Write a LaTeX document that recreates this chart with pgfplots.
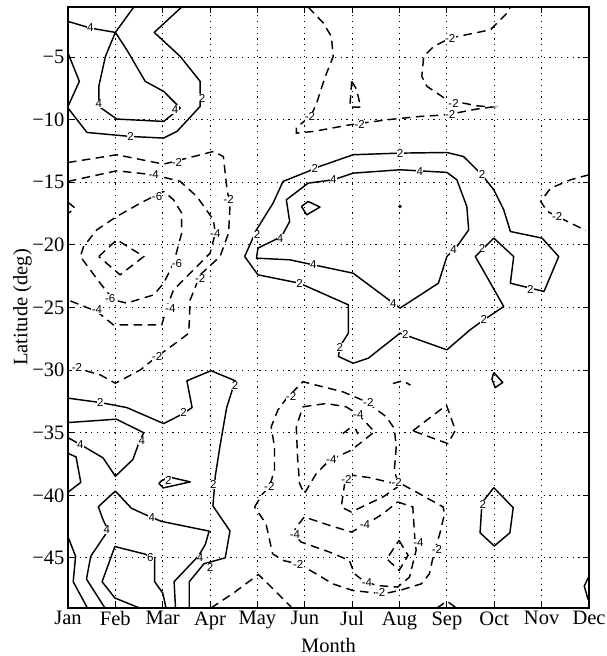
\documentclass[border=0pt]{standalone}
\usepackage{fontspec}
\setmainfont{Liberation Serif}
\newfontfamily\lsans{Liberation Sans}
\usepackage{pgfplots}
\pgfplotsset{compat=1.18}
\newcommand\clfont{\lsans\fontsize{11.5}{12}\selectfont}
\newcommand\cl[3]{\node[font=\clfont,fill=white,inner sep=0.3pt] at (axis cs:#1,#2) {#3};}
\pgfplotsset{
  pos/.style={black, line width=1.45pt, line join=round},
  neg/.style={black, line width=1.45pt, dash pattern=on 8.5pt off 5.5pt},
}
\begin{document}
\begin{tikzpicture}
\begin{axis}[
  name=ax,
  scale only axis,
  width=521pt, height=601pt,
  xmin=1, xmax=12, ymin=-49, ymax=-1,
  xtick={1,2,3,4,5,6,7,8,9,10,11,12},
  xticklabels={Jan,Feb,Mar,Apr,May,Jun,Jul,Aug,Sep,Oct,Nov,Dec},
  ytick={-45,-40,-35,-30,-25,-20,-15,-10,-5},
  yticklabels={−45,−40,−35,−30,−25,−20,−15,−10,−5},
  tick label style={font=\fontsize{20.5}{24}\selectfont},
  label style={font=\fontsize{20.5}{24}\selectfont},
  xlabel={Month}, ylabel={Latitude (deg)},
  xlabel style={at={(axis description cs:0.5,-0.062)}, anchor=center},
  ylabel style={at={(axis description cs:-0.0873,0.5)}, anchor=center},
  tick align=inside, major tick length=6pt,
  tick style={black, line width=0.9pt},
  axis line style={black, line width=1.4pt},
  grid=major,
  major grid style={black, line width=1pt, dash pattern=on 1.2pt off 4.6pt},
]
% ---------- positive (solid) ----------
\addplot[pos] coordinates {(1,-2.15) (1.47,-2.68) (2.0,-3.03) (2.39,-1)};
\addplot[pos] coordinates {(2.0,-3.03) (2.24,-4.41) (2.63,-6.94) (3.02,-7.74) (3.37,-9.07) (3.02,-10.14) (2.03,-9.95) (1.65,-8.94) (1.65,-7.34) (1.79,-4.95) (2.0,-3.03)};
\addplot[pos] coordinates {(1,-4.68) (1.24,-6.94) (1,-8.94)};
\addplot[pos] coordinates {(1,-9.07) (1.40,-11.02) (2.32,-11.34) (3.02,-11.47) (3.30,-10.94) (3.79,-8.94) (3.79,-6.94) (3.37,-4.95) (2.82,-3.03) (3.40,-1)};
\addplot[pos] coordinates {(4.73,-20.93) (4.98,-18.79) (5.33,-16.66) (5.54,-14.93) (6.07,-14.13) (6.21,-13.87) (7.02,-12.80) (8.01,-12.67) (9.00,-12.62) (9.35,-12.94) (9.74,-14.40) (9.99,-15.60) (10.20,-17.20) (10.34,-18.93) (11.01,-19.46) (11.36,-20.93) (11.05,-23.72) (10.34,-23.06) (10.41,-20.93) (9.99,-19.46) (9.60,-20.93) (10.20,-24.92) (9.78,-25.99) (9.49,-26.78) (9.00,-28.38) (8.01,-27.05) (7.34,-29.05) (7.02,-29.45) (6.71,-28.91) (6.74,-28.12) (6.92,-27.05) (6.92,-24.79) (5.89,-23.06) (5.01,-22.39) (4.73,-20.93)};
\addplot[pos] coordinates {(6.07,-15.07) (6.60,-14.80) (7.02,-14.27) (8.01,-14.00) (9.00,-14.21) (9.21,-14.80) (9.42,-16.93) (9.46,-18.80) (9.21,-20.13) (9.00,-20.93) (8.82,-23.06) (8.01,-25.05) (7.02,-22.26) (6.18,-21.59) (5.68,-21.19) (4.98,-21.06) (5.01,-20.26) (5.51,-19.33) (5.68,-18.13) (5.61,-16.40) (6.07,-15.07)};
\addplot[pos] coordinates {(5.93,-16.93) (6.07,-16.53) (6.32,-16.98) (6.04,-17.60) (5.93,-16.93)};
\addplot[only marks, mark=*, mark size=1.5pt, black] coordinates {(8.01,-16.93)};
\addplot[pos] coordinates {(1,-32.24) (1.68,-32.59) (2.24,-32.99) (3.02,-34.27) (3.41,-33.52) (3.62,-32.99) (3.51,-30.85) (4.02,-30.05) (4.53,-30.85) (4.35,-32.99) (4.21,-36.05) (4.11,-38.45) (4.06,-40.85) (4.42,-42.85) (4.32,-44.99) (3.87,-45.47) (3.56,-46.9) (3.56,-49)};
\addplot[pos] coordinates {(1,-34.19) (2.02,-33.92) (2.60,-35.0) (2.51,-35.67) (2.37,-37.14) (2.0,-38.48) (1.74,-37.01) (1.26,-35.94) (1,-35.40)};
\addplot[pos] coordinates {(1,-36.65) (1.17,-36.93) (1.27,-38.97) (1,-39.75)};
\addplot[pos] coordinates {(2.96,-38.88) (3.13,-38.53) (3.58,-38.93) (3.01,-39.41) (2.92,-39.06) (2.96,-38.88)};
\addplot[pos] coordinates {(1.78,-49) (1.39,-46.69) (1.48,-44.87) (1.85,-42.79) (1.74,-41.95) (1.64,-40.91) (2.00,-39.66) (2.34,-41.04) (2.72,-41.69) (2.97,-42.08) (3.98,-42.86) (3.90,-43.91) (3.76,-44.82) (3.24,-46.90) (3.27,-49)};
\addplot[pos] coordinates {(1,-43.31) (1.16,-44.87) (1.11,-46.90) (1.41,-49)};
\addplot[pos] coordinates {(2.51,-49) (1.99,-48.2) (1.72,-46.9) (1.99,-44.09) (2.62,-44.69) (2.83,-45.0) (2.83,-46.90) (3.00,-47.81) (3.07,-49)};
\addplot[pos] coordinates {(9.99,-30.19) (10.18,-30.99) (10.02,-31.39) (9.95,-30.72) (9.99,-30.19)};
\addplot[pos] coordinates {(9.99,-39.39) (10.40,-40.99) (10.33,-42.99) (10.00,-44.05) (9.70,-42.99) (9.74,-40.59) (9.99,-39.39)};
\addplot[pos] coordinates {(12,-46.45) (11.9,-47.25) (11.98,-48.32)};
% ---------- negative (dashed) ----------
\addplot[neg] coordinates {(1,-13.42) (2.03,-12.80) (3.02,-13.55) (4.07,-12.54) (4.28,-12.94) (4.35,-15.33) (4.42,-16.93) (4.39,-19.06) (4.21,-20.93) (3.79,-22.39) (3.58,-24.39) (3.55,-27.05) (3.37,-27.58) (2.88,-28.91) (2.53,-29.98) (2.00,-31.05) (1.68,-30.38) (1.19,-29.85) (1,-29.71)};
\addplot[neg] coordinates {(1,-16.6) (1.15,-17.06) (1,-17.5)};
\addplot[neg] coordinates {(1,-14.93) (2.03,-14.08) (2.81,-14.40) (3.37,-14.93) (3.72,-16.13) (4.07,-18.00) (4.11,-19.06) (4.00,-20.66) (3.65,-21.99) (3.23,-23.59) (3.09,-24.92) (2.98,-26.39) (1.96,-26.39) (1.61,-25.32) (1.08,-24.52) (1,-24.39)};
\addplot[neg] coordinates {(3.02,-15.73) (2.53,-16.66) (2.03,-17.73) (1.61,-18.79) (1.33,-20.13) (1.26,-20.93) (1.68,-23.06) (1.96,-24.39) (2.24,-24.65) (2.81,-23.99) (3.02,-23.06) (3.23,-21.46) (3.40,-19.06) (3.40,-17.46) (3.23,-16.40) (3.02,-15.73)};
\addplot[neg] coordinates {(1.65,-20.93) (2.03,-19.59) (2.60,-20.93) (2.10,-22.39) (1.65,-20.93)};
\addplot[neg] coordinates {(6.07,-1) (6.39,-2.28) (6.56,-3.35) (6.60,-4.95) (6.46,-6.28) (6.35,-7.48) (6.25,-8.68) (6.14,-9.61) (5.82,-10.67) (5.82,-11.07) (6.18,-10.94) (6.95,-10.41) (7.73,-10.01) (8.43,-9.74) (9.00,-9.61) (9.63,-9.15) (9.95,-8.99) (9.63,-8.89) (9.00,-8.41) (8.58,-7.34) (8.47,-6.54) (8.51,-4.95) (8.72,-4.15) (9.07,-3.48) (9.92,-2.82) (10.27,-1.48) (10.34,-1)};
\addplot[neg] coordinates {(6.99,-6.94) (7.09,-7.56) (7.18,-9.0) (6.95,-9.0) (6.99,-6.94)};
\addplot[neg] coordinates {(12,-14.40) (11.61,-14.80) (11.19,-15.47) (10.98,-16.53) (11.12,-17.33) (11.93,-18.85)};
\addplot[neg] coordinates {(4.94,-40.93) (5.11,-39.87) (5.25,-39.33) (5.36,-38.00) (5.36,-36.13) (5.29,-34.53) (5.43,-33.20) (5.61,-32.27) (5.96,-30.93) (6.24,-31.20) (6.80,-31.73) (7.30,-32.53) (7.72,-33.73) (7.89,-34.67) (7.93,-36.13) (7.89,-38.00) (7.96,-38.93) (8.35,-39.73) (8.92,-40.93) (8.95,-41.47) (8.85,-43.07) (8.74,-44.40) (8.63,-46.27) (8.46,-47.07) (8.00,-47.60) (7.65,-47.87) (7.01,-47.60) (6.59,-47.07) (6.24,-46.27) (5.89,-45.52) (5.54,-45.20) (5.32,-44.67) (5.18,-42.27) (4.94,-40.93)};
\addplot[neg] coordinates {(5.96,-32.93) (6.45,-32.67) (6.87,-32.93) (7.15,-33.60) (7.47,-34.93) (6.98,-36.40) (6.52,-37.20) (6.24,-38.27) (5.99,-39.87) (5.89,-39.07) (5.85,-37.20) (5.82,-34.53) (5.96,-32.93)};
\addplot[neg] coordinates {(6.80,-35.07) (6.94,-34.67) (7.08,-34.75) (7.12,-35.12)};
\addplot[neg] coordinates {(7.96,-39.12) (7.37,-38.59) (7.01,-38.40) (6.84,-39.07) (6.77,-40.93) (6.98,-41.33) (7.65,-40.13) (7.96,-39.33)};
\addplot[neg] coordinates {(7.96,-40.53) (8.28,-40.93) (8.32,-43.33) (8.35,-44.40) (8.21,-46.53) (7.96,-47.33) (7.51,-47.20) (7.23,-46.80) (7.05,-46.27) (6.94,-45.20) (6.52,-44.53) (5.92,-43.73) (5.75,-43.07) (5.82,-42.53) (5.99,-41.73) (6.52,-42.40) (6.98,-42.93) (7.26,-42.40) (7.65,-41.47) (7.96,-40.53)};
\addplot[neg] coordinates {(7.99,-43.6) (8.18,-44.8) (7.99,-46.0) (7.73,-45.07) (7.99,-43.6)};
\addplot[neg] coordinates {(7.86,-31.07) (8.07,-30.85) (8.23,-31.20)};
\addplot[neg] coordinates {(8.28,-34.85) (8.99,-32.80) (9.18,-34.80) (9.02,-35.87) (8.28,-34.85)};
\addplot[neg] coordinates {(4.02,-49) (4.50,-47.79) (5.02,-46.32) (5.34,-47.52) (5.73,-49)};
\addplot[neg] coordinates {(8.79,-49) (9.0,-48.45) (9.2,-49)};
% ---------- labels ----------
\cl{1.47}{-2.68}{4}
\cl{1.65}{-8.73}{4}
\cl{3.26}{-9.2}{4}
\cl{2.32}{-11.34}{2}
\cl{3.83}{-8.28}{2}
\cl{3.30}{-13.39}{-2}
\cl{2.81}{-14.40}{-4}
\cl{2.88}{-16.13}{-6}
\cl{4.39}{-16.40}{-2}
\cl{4.11}{-19.06}{-4}
\cl{3.30}{-21.46}{-6}
\cl{3.79}{-22.66}{-2}
\cl{1.89}{-24.25}{-6}
\cl{1.61}{-25.19}{-4}
\cl{3.16}{-25.05}{-4}
\cl{2.88}{-28.91}{-2}
\cl{1.19}{-29.79}{-2}
\cl{4.99}{-19.2}{2}
\cl{5.48}{-19.46}{4}
\cl{5.89}{-23.06}{2}
\cl{6.11}{-9.74}{-2}
\cl{7.16}{-10.41}{-2}
\cl{9.07}{-9.61}{-2}
\cl{9.14}{-8.68}{-2}
\cl{9.07}{-3.48}{-2}
\cl{6.21}{-13.87}{2}
\cl{6.60}{-14.80}{4}
\cl{8.01}{-12.67}{2}
\cl{8.43}{-14.13}{4}
\cl{9.74}{-14.40}{2}
\cl{11.33}{-17.73}{-2}
\cl{9.14}{-20.39}{4}
\cl{9.74}{-20.26}{2}
\cl{10.76}{-23.59}{2}
\cl{6.18}{-21.59}{4}
\cl{7.87}{-24.65}{4}
\cl{9.78}{-25.99}{2}
\cl{6.74}{-28.19}{2}
\cl{8.12}{-27.12}{2}
\cl{7.34}{-32.59}{-2}
\cl{7.13}{-33.52}{-4}
\cl{6.56}{-37.12}{-4}
\cl{6.88}{-38.72}{-2}
\cl{7.94}{-38.99}{-2}
\cl{7.27}{-42.32}{-4}
\cl{5.79}{-43.12}{-4}
\cl{5.86}{-45.52}{-2}
\cl{7.31}{-46.99}{-4}
\cl{7.59}{-47.79}{-2}
\cl{8.40}{-43.79}{-4}
\cl{8.79}{-44.32}{-2}
\cl{9.76}{-40.72}{2}
\cl{5.71}{-32.13}{-2}
\cl{5.25}{-39.33}{-2}
\cl{1.68}{-32.59}{2}
\cl{3.44}{-33.39}{2}
\cl{4.53}{-31.25}{2}
\cl{2.56}{-35.65}{4}
\cl{1.26}{-35.92}{4}
\cl{3.12}{-38.85}{2}
\cl{4.07}{-39.12}{2}
\cl{2.77}{-41.79}{4}
\cl{1.82}{-42.77}{4}
\cl{2.74}{-44.99}{6}
\cl{3.79}{-44.99}{4}
\cl{4.00}{-45.79}{2}
\end{axis}
\pgfresetboundingbox
\path ([xshift=-68pt,yshift=-48pt]ax.south west) rectangle ([xshift=17pt,yshift=7pt]ax.north east);
\end{tikzpicture}
\end{document}
